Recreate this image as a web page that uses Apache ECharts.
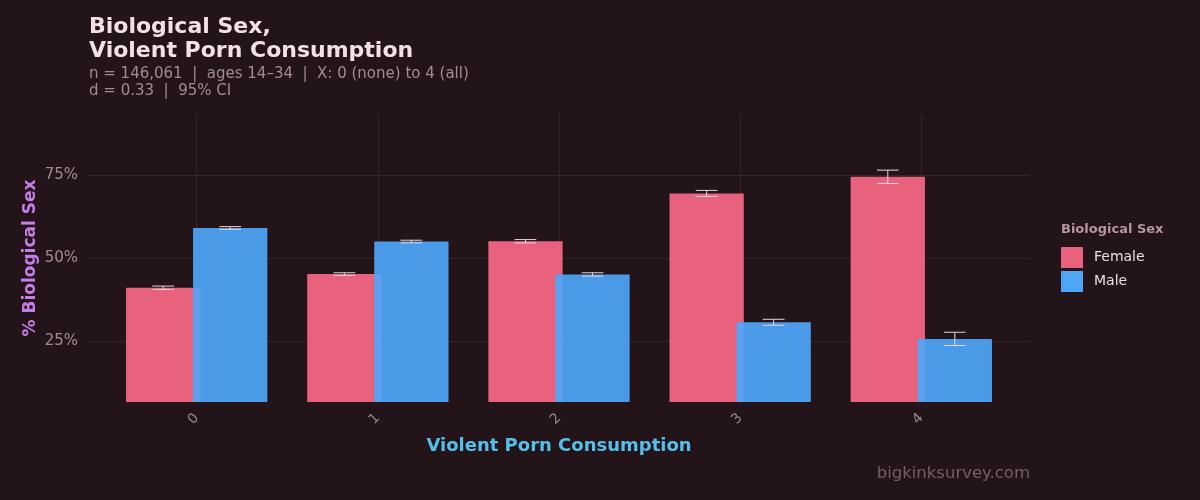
<!DOCTYPE html>
<html>
<head>
<meta charset="utf-8">
<script src="https://cdn.jsdelivr.net/npm/echarts@6/dist/echarts.min.js"></script>
<style>
  html, body { margin: 0; padding: 0; background: #221419; }
  #chart { width: 1200px; height: 500px; }
</style>
</head>
<body>
<div id="chart"></div>
<script>
// data
const categories = ['0', '1', '2', '3', '4']
const female = [41.0, 45.1, 55.0, 69.4, 74.4]
const male = [59.0, 54.9, 45.0, 30.6, 25.6]
const femaleCi = [0.5, 0.4, 0.5, 0.9, 2.0]
const maleCi = [0.4, 0.4, 0.5, 0.9, 2.0]
const yTicks = [25, 50, 75]

const Y_MIN = 6.6
const Y_MAX = 93.3
const BAR_W = 0.41
const DODGE = 0.185
const CAP = 0.06

const FONT = 'DejaVu Sans'
// male drawn slightly see-through on top, so the overlap strip turns lighter
const COLORS = { female: '#e8627e', male: '#4ea6f8' }

const chart = echarts.init(document.getElementById('chart'))

const barRenderer = (offset, opacity) => (params, api) => {
  const x = api.value(0)
  const v = api.value(1)
  const tl = api.coord([x + offset - BAR_W / 2, v])
  const br = api.coord([x + offset + BAR_W / 2, Y_MIN])
  return {
    type: 'rect',
    shape: { x: tl[0], y: tl[1], width: br[0] - tl[0], height: br[1] - tl[1] },
    style: { fill: api.visual('color'), opacity: opacity }
  }
}

const errRenderer = (offset) => (params, api) => {
  const x = api.value(0) + offset
  const lo = api.coord([x, api.value(1)])
  const hi = api.coord([x, api.value(2)])
  const half = api.size([CAP, 0])[0]
  const style = { stroke: '#e6d6da', lineWidth: 1 }
  return {
    type: 'group',
    children: [
      { type: 'line', shape: { x1: lo[0], y1: lo[1], x2: hi[0], y2: hi[1] }, style },
      { type: 'line', shape: { x1: lo[0] - half, y1: lo[1], x2: lo[0] + half, y2: lo[1] }, style },
      { type: 'line', shape: { x1: hi[0] - half, y1: hi[1], x2: hi[0] + half, y2: hi[1] }, style }
    ]
  }
}

const barData = (vals) => vals.map((v, i) => [i, v])
const errData = (vals, ci) => vals.map((v, i) => [i, v - ci[i], v + ci[i]])

const option = {
  backgroundColor: '#221419',
  animation: false,
  title: [
    {
      text: 'Biological Sex,\nViolent Porn Consumption',
      left: 84,
      top: 10,
      textStyle: { fontFamily: FONT, fontSize: 22, fontWeight: 'bold', color: '#f2e0e4', lineHeight: 24 }
    },
    {
      text: 'n = 146,061  |  ages 14\u201334  |  X: 0 (none) to 4 (all)\nd = 0.33  |  95% CI',
      left: 84,
      top: 61,
      textStyle: { fontFamily: FONT, fontSize: 15, fontWeight: 'normal', color: '#a48b93', lineHeight: 16.5 }
    }
  ],
  legend: {
    data: ['Female', 'Male'],
    orient: 'vertical',
    left: 1061,
    top: 247,
    padding: 0,
    itemWidth: 22,
    itemHeight: 21,
    itemGap: 3,
    icon: 'rect',
    textStyle: { fontFamily: FONT, fontSize: 14, color: '#ecdde1', padding: [0, 0, 0, 6] }
  },
  graphic: [
    {
      type: 'text',
      left: 1061,
      top: 223,
      style: { text: 'Biological Sex', font: 'bold 13px "DejaVu Sans"', fill: '#b8969f' }
    },
    {
      type: 'text',
      right: 170,
      top: 465,
      style: { text: 'bigkinksurvey.com', font: '16.5px "DejaVu Sans"', fill: '#735f66' }
    }
  ],
  grid: { left: 88, right: 170, top: 114, bottom: 98 },
  xAxis: {
    type: 'value',
    min: -0.6,
    max: 4.6,
    axisLine: { show: false },
    axisTick: { show: false, customValues: [0, 1, 2, 3, 4] },
    axisLabel: {
      customValues: [0, 1, 2, 3, 4],
      formatter: (v) => categories[v],
      rotate: 45,
      margin: 14,
      fontFamily: FONT,
      fontSize: 14,
      color: '#9c8890'
    },
    splitLine: { show: true, lineStyle: { color: '#35242a', width: 1 } },
    name: 'Violent Porn Consumption',
    nameLocation: 'middle',
    nameGap: 35,
    nameTextStyle: { fontFamily: FONT, fontSize: 18, fontWeight: 'bold', color: '#55bfea' }
  },
  yAxis: {
    type: 'value',
    min: Y_MIN,
    max: Y_MAX,
    axisLine: { show: false },
    axisTick: { show: false, customValues: yTicks },
    axisLabel: {
      customValues: yTicks,
      formatter: '{value}%',
      margin: 10,
      fontFamily: FONT,
      fontSize: 15,
      color: '#a48b93'
    },
    splitLine: { show: true, lineStyle: { color: '#35242a', width: 1 } },
    name: '% Biological Sex',
    nameLocation: 'middle',
    nameGap: 49,
    nameMoveOverlap: false,
    nameTextStyle: { fontFamily: FONT, fontSize: 17, fontWeight: 'bold', color: '#c47ee6' }
  },
  series: [
    {
      name: 'Female',
      type: 'custom',
      renderItem: barRenderer(-DODGE, 1),
      itemStyle: { color: COLORS.female },
      encode: { x: 0, y: 1 },
      data: barData(female)
    },
    {
      name: 'Male',
      type: 'custom',
      renderItem: barRenderer(DODGE, 0.92),
      itemStyle: { color: COLORS.male },
      encode: { x: 0, y: 1 },
      data: barData(male)
    },
    {
      type: 'custom',
      renderItem: errRenderer(-DODGE),
      encode: { x: 0, y: [1, 2] },
      data: errData(female, femaleCi),
      z: 5
    },
    {
      type: 'custom',
      renderItem: errRenderer(DODGE),
      encode: { x: 0, y: [1, 2] },
      data: errData(male, maleCi),
      z: 5
    }
  ]
}

chart.setOption(option)
</script>
</body>
</html>
